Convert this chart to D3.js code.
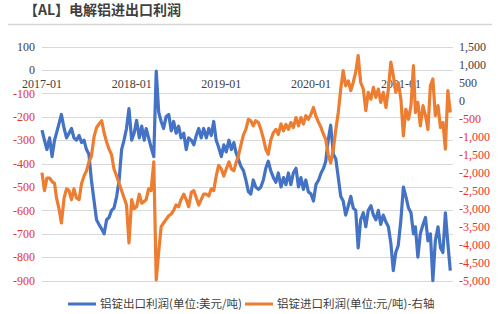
<!DOCTYPE html>
<meta charset="utf-8">
<style>
body {
  margin: 0px;
  background: #fff;
}
svg {
  font-family: "Liberation Serif", serif;
}
.title {
  font-family: "Noto Sans CJK SC", sans-serif;
  font-size: 14px;
  font-weight: 700;
  fill: #404040;
}
.tick-label {
  font-size: 12px;
}
.legend text {
  font-family: "Noto Sans CJK SC", sans-serif;
  font-size: 11.5px;
  fill: #404040;
}
</style>
<body>
<script src="https://d3js.org/d3.v7.min.js"></script>
<script>
var width = 500,
    height = 314

// one entry per month, three readings per month (1st, 11th, 21st)
var months = ["2017-01","2017-02","2017-03","2017-04","2017-05","2017-06","2017-07","2017-08","2017-09","2017-10","2017-11","2017-12",
              "2018-01","2018-02","2018-03","2018-04","2018-05","2018-06","2018-07","2018-08","2018-09","2018-10","2018-11","2018-12",
              "2019-01","2019-02","2019-03","2019-04","2019-05","2019-06","2019-07","2019-08","2019-09","2019-10","2019-11","2019-12",
              "2020-01","2020-02","2020-03","2020-04","2020-05","2020-06","2020-07","2020-08","2020-09","2020-10","2020-11","2020-12",
              "2021-01","2021-02","2021-03","2021-04","2021-05","2021-06","2021-07"]
var days = [1, 11, 21]

// 铝锭出口利润 (美元/吨), left axis
var exportProfit = [
  -257,-300,-340, -290,-370,-300, -270,-230,-190, -250,-290,-270, -250,-290,-300, -280,-310,-300,
  -340,-360,-470, -560,-640,-660, -680,-700,-640, -630,-600,-590, -540,-470,-340, -300,-250,-165,
  -300,-270,-215, -290,-240,-300, -250,-290,-330, -370,-5,-180, -220,-250,-200, -190,-260,-220,
  -270,-240,-290, -270,-340,-290, -300,-320,-280, -250,-290,-250, -290,-250,-280, -220,-300,-330,
  -370,-320,-350, -300,-340,-310, -350,-380,-410, -430,-470,-520, -530,-470,-500, -510,-500,-470,
  -420,-390,-430, -460,-480,-440, -500,-460,-490, -440,-490,-440, -420,-500,-460, -510,-470,-520,
  -530,-560,-490, -470,-440,-420, -390,-300,-236, -360,-380,-460, -540,-560,-620, -580,-540,-590,
  -600,-760,-640, -610,-670,-600, -580,-620,-640, -600,-660,-620, -650,-670,-740, -857,-780,-750,
  -640,-500,-540, -590,-610,-700, -670,-800,-700, -660,-630,-730, -700,-900,-730, -670,-760,-780,
  -610,-740,-857
]

// 铝锭进口利润 (元/吨), right axis
var importProfit = [
  -2000,-2500,-2150, -2150,-2250,-2300, -2700,-3000,-3400, -2700,-2450,-2500, -2750,-2450,-2700, -2750,-2300,-2100,
  -1950,-1700,-1550, -1000,-750,-650, -560,-900,-1150, -1350,-1500,-1900, -2100,-2300,-2500, -2700,-2900,-3950,
  -2750,-3000,-2950, -2600,-2850,-2800, -2750,-2450,-2500, -1700,-4980,-4200, -3500,-3400,-3300, -3200,-3150,-3050,
  -2900,-2950,-2750, -2600,-2750,-2950, -2550,-2500,-2700, -2900,-2750,-2600, -2600,-2650,-2450, -2500,-2100,-1800,
  -1900,-2100,-1900, -1700,-1900,-1950, -1750,-1550,-1250, -950,-800,-520, -560,-700,-560, -610,-800,-1050,
  -1350,-1490,-1100, -890,-800,-940, -650,-840,-660, -800,-610,-750, -470,-700,-470, -650,-420,-520,
  -380,-190,-430, -610,-750,-940, -1075,-1500,-1730, -1350,-800,-330, 320,830,410, 550,280,510,
  790,1250,510, 320,-280,230, 40,370,90, 320,-50,230, -190,320,1070, 690,230,500,
  40,-980,-240, -520,-140,970, -330,-50,-700, -140,-420,-800, 410,600,-420, -140,-750,-610,
  -1350,280,-330
]

var leftTicks = [100, 0, -100, -200, -300, -400, -500, -600, -700, -800, -900]
var rightTicks = [1500, 1000, 500, 0, -500, -1000, -1500, -2000, -2500, -3000, -3500, -4000, -4500, -5000]
var yearTicks = ["2017-01", "2018-01", "2019-01", "2020-01", "2021-01"]

var parseMonth = d3.timeParse("%Y-%m")

var data = []
months.forEach(function(m, i) {
  days.forEach(function(dd, j) {
    var k = i * 3 + j
    if (k >= exportProfit.length) return
    var dt = parseMonth(m)
    dt.setDate(dd)
    data.push({ date: dt, exp: exportProfit[k], imp: importProfit[k] })
  })
})

var blue = "#4472C4",
    orange = "#ED7D31",
    red = "#E8312F",
    dark = "#404040"

var svg = d3.select("body").append("svg")
    .attr("width", width)
    .attr("height", height)

// title
svg.append("text")
    .attr("class", "title")
    .attr("x", 24)
    .attr("y", 14.5)
    .text("【AL】电解铝进出口利润")

svg.append("line")
    .attr("x1", 8).attr("x2", 492)
    .attr("y1", 24.5).attr("y2", 24.5)
    .attr("stroke", "#d6d6d6")
    .attr("stroke-width", 1.5)

var x = d3.scaleTime()
    .domain([new Date(2017, 0, 1), new Date(2021, 7, 1)])
    .range([42, 453])

var yLeft = d3.scaleLinear()
    .domain([-900, 100])
    .range([280.6, 46.6])

var yRight = d3.scaleLinear()
    .domain([-5000, 1500])
    .range([280.6, 46.6])

// gridlines
svg.append("g")
  .selectAll("line")
  .data(leftTicks)
  .enter().append("line")
    .attr("x1", x.range()[0])
    .attr("x2", x.range()[1])
    .attr("y1", function(d) { return Math.round(yLeft(d)) + 0.5 })
    .attr("y2", function(d) { return Math.round(yLeft(d)) + 0.5 })
    .attr("stroke", "#d9d9d9")
    .attr("stroke-width", 1)

// left axis labels
svg.append("g")
  .selectAll("text")
  .data(leftTicks)
  .enter().append("text")
    .attr("class", "tick-label")
    .attr("x", 35)
    .attr("y", function(d) { return yLeft(d) })
    .attr("dy", "0.35em")
    .attr("text-anchor", "end")
    .attr("fill", function(d) { return d < 0 ? red : dark })
    .text(function(d) { return d })

// right axis labels
var fmt = d3.format(",")
svg.append("g")
  .selectAll("text")
  .data(rightTicks)
  .enter().append("text")
    .attr("class", "tick-label")
    .attr("x", 459)
    .attr("y", function(d) { return yRight(d) })
    .attr("dy", "0.35em")
    .attr("text-anchor", "start")
    .attr("fill", function(d) { return d < 0 ? red : dark })
    .text(function(d) { return fmt(d).replace("\u2212", "-") })

// date labels
svg.append("g")
  .selectAll("text")
  .data(yearTicks)
  .enter().append("text")
    .attr("class", "tick-label")
    .attr("x", function(d) { return x(parseMonth(d)) })
    .attr("y", 88)
    .attr("text-anchor", "middle")
    .attr("fill", dark)
    .text(function(d) { return d })

// series
var lineExp = d3.line()
    .x(function(d) { return x(d.date) })
    .y(function(d) { return yLeft(d.exp) })

var lineImp = d3.line()
    .x(function(d) { return x(d.date) })
    .y(function(d) { return yRight(d.imp) })

svg.append("path")
    .datum(data)
    .attr("d", lineExp)
    .attr("fill", "none")
    .attr("stroke", blue)
    .attr("stroke-width", 3.2)
    .attr("stroke-linejoin", "round")

svg.append("path")
    .datum(data)
    .attr("d", lineImp)
    .attr("fill", "none")
    .attr("stroke", orange)
    .attr("stroke-width", 3.2)
    .attr("stroke-linejoin", "round")

// legend
var legendItems = [
  { label: "铝锭出口利润(单位:美元/吨)", color: blue, x: 68 },
  { label: "铝锭进口利润(单位:元/吨)-右轴", color: orange, x: 245 }
]

var legend = svg.append("g")
    .attr("class", "legend")
  .selectAll("g")
  .data(legendItems)
  .enter().append("g")
    .attr("transform", function(d) { return "translate(" + d.x + ",304)" })

legend.append("line")
    .attr("x1", 0).attr("x2", 28)
    .attr("stroke", function(d) { return d.color })
    .attr("stroke-width", 3)

legend.append("text")
    .attr("x", 32)
    .attr("dy", "0.35em")
    .text(function(d) { return d.label })
</script>
